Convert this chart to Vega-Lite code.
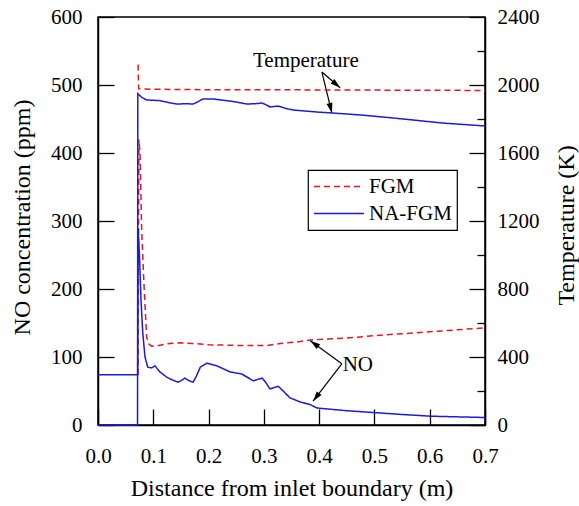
{
  "$schema": "https://vega.github.io/schema/vega-lite/v6.json",
  "width": 387,
  "height": 408,
  "autosize": {"type": "none"},
  "padding": {"left": 98, "top": 17, "right": 94, "bottom": 81},
  "background": "white",
  "config": {
    "font": "Liberation Serif, Times New Roman, serif",
    "view": {"stroke": "black", "strokeWidth": 1.5},
    "axis": {
      "grid": false,
      "domainColor": "black",
      "domainWidth": 1.5,
      "tickColor": "black",
      "tickWidth": 1.3,
      "labelFont": "Liberation Serif, Times New Roman, serif",
      "labelFontSize": 21,
      "labelColor": "black",
      "labelOverlap": false,
      "labelFlush": false,
      "labelBound": false,
      "titleFont": "Liberation Serif, Times New Roman, serif",
      "titleFontSize": 24,
      "titleFontWeight": "normal",
      "titleColor": "black"
    },
    "legend": {
      "orient": "none",
      "legendX": 210,
      "legendY": 153,
      "strokeColor": "black",
      "strokeWidth": 1.2,
      "fillColor": "white",
      "padding": 5,
      "symbolType": "stroke",
      "symbolSize": 2500,
      "symbolStrokeWidth": 1.6,
      "clipHeight": 23,
      "labelFont": "Liberation Serif, Times New Roman, serif",
      "labelFontSize": 21,
      "labelColor": "black",
      "rowPadding": 4,
      "labelOffset": 4
    }
  },
  "datasets": {
    "no": [
      {"x": 0.0725, "value": 74, "model": "FGM"},
      {"x": 0.074, "value": 420, "model": "FGM"},
      {"x": 0.076, "value": 400, "model": "FGM"},
      {"x": 0.079, "value": 287, "model": "FGM"},
      {"x": 0.083, "value": 209, "model": "FGM"},
      {"x": 0.088, "value": 129, "model": "FGM"},
      {"x": 0.092, "value": 119, "model": "FGM"},
      {"x": 0.097, "value": 116, "model": "FGM"},
      {"x": 0.11, "value": 117, "model": "FGM"},
      {"x": 0.13, "value": 120, "model": "FGM"},
      {"x": 0.148, "value": 121, "model": "FGM"},
      {"x": 0.17, "value": 120, "model": "FGM"},
      {"x": 0.2, "value": 118, "model": "FGM"},
      {"x": 0.25, "value": 117, "model": "FGM"},
      {"x": 0.306, "value": 117, "model": "FGM"},
      {"x": 0.33, "value": 120, "model": "FGM"},
      {"x": 0.36, "value": 122, "model": "FGM"},
      {"x": 0.384, "value": 125, "model": "FGM"},
      {"x": 0.45, "value": 128, "model": "FGM"},
      {"x": 0.51, "value": 132, "model": "FGM"},
      {"x": 0.6, "value": 137, "model": "FGM"},
      {"x": 0.7, "value": 143, "model": "FGM"},
      {"x": 0.0, "value": 74, "model": "NA-FGM"},
      {"x": 0.0718, "value": 74, "model": "NA-FGM"},
      {"x": 0.0725, "value": 290, "model": "NA-FGM"},
      {"x": 0.075, "value": 250, "model": "NA-FGM"},
      {"x": 0.078, "value": 180, "model": "NA-FGM"},
      {"x": 0.081, "value": 135, "model": "NA-FGM"},
      {"x": 0.085, "value": 100, "model": "NA-FGM"},
      {"x": 0.09, "value": 85, "model": "NA-FGM"},
      {"x": 0.097, "value": 84, "model": "NA-FGM"},
      {"x": 0.103, "value": 87, "model": "NA-FGM"},
      {"x": 0.112, "value": 78, "model": "NA-FGM"},
      {"x": 0.125, "value": 70, "model": "NA-FGM"},
      {"x": 0.135, "value": 66, "model": "NA-FGM"},
      {"x": 0.145, "value": 63, "model": "NA-FGM"},
      {"x": 0.152, "value": 66, "model": "NA-FGM"},
      {"x": 0.157, "value": 69, "model": "NA-FGM"},
      {"x": 0.165, "value": 65, "model": "NA-FGM"},
      {"x": 0.172, "value": 63, "model": "NA-FGM"},
      {"x": 0.178, "value": 72, "model": "NA-FGM"},
      {"x": 0.185, "value": 85, "model": "NA-FGM"},
      {"x": 0.197, "value": 91, "model": "NA-FGM"},
      {"x": 0.215, "value": 87, "model": "NA-FGM"},
      {"x": 0.239, "value": 78, "model": "NA-FGM"},
      {"x": 0.26, "value": 75, "model": "NA-FGM"},
      {"x": 0.281, "value": 65, "model": "NA-FGM"},
      {"x": 0.297, "value": 69, "model": "NA-FGM"},
      {"x": 0.304, "value": 62, "model": "NA-FGM"},
      {"x": 0.311, "value": 53, "model": "NA-FGM"},
      {"x": 0.326, "value": 57, "model": "NA-FGM"},
      {"x": 0.335, "value": 50, "model": "NA-FGM"},
      {"x": 0.347, "value": 40, "model": "NA-FGM"},
      {"x": 0.365, "value": 34, "model": "NA-FGM"},
      {"x": 0.384, "value": 30, "model": "NA-FGM"},
      {"x": 0.396, "value": 25, "model": "NA-FGM"},
      {"x": 0.45, "value": 21, "model": "NA-FGM"},
      {"x": 0.54, "value": 16, "model": "NA-FGM"},
      {"x": 0.6, "value": 13, "model": "NA-FGM"},
      {"x": 0.7, "value": 11, "model": "NA-FGM"}
    ],
    "temp": [
      {"x": 0.0725, "value": 2120, "model": "FGM"},
      {"x": 0.0735, "value": 1978, "model": "FGM"},
      {"x": 0.08, "value": 1976, "model": "FGM"},
      {"x": 0.15, "value": 1973, "model": "FGM"},
      {"x": 0.3, "value": 1972, "model": "FGM"},
      {"x": 0.5, "value": 1970, "model": "FGM"},
      {"x": 0.7, "value": 1968, "model": "FGM"},
      {"x": 0.0, "value": 0, "model": "NA-FGM"},
      {"x": 0.0715, "value": 0, "model": "NA-FGM"},
      {"x": 0.072, "value": 1950, "model": "NA-FGM"},
      {"x": 0.075, "value": 1940, "model": "NA-FGM"},
      {"x": 0.08, "value": 1925, "model": "NA-FGM"},
      {"x": 0.088, "value": 1912, "model": "NA-FGM"},
      {"x": 0.1, "value": 1910, "model": "NA-FGM"},
      {"x": 0.112, "value": 1908, "model": "NA-FGM"},
      {"x": 0.13, "value": 1895, "model": "NA-FGM"},
      {"x": 0.143, "value": 1888, "model": "NA-FGM"},
      {"x": 0.16, "value": 1890, "model": "NA-FGM"},
      {"x": 0.172, "value": 1888, "model": "NA-FGM"},
      {"x": 0.18, "value": 1900, "model": "NA-FGM"},
      {"x": 0.19, "value": 1918, "model": "NA-FGM"},
      {"x": 0.208, "value": 1918, "model": "NA-FGM"},
      {"x": 0.233, "value": 1908, "model": "NA-FGM"},
      {"x": 0.25, "value": 1900, "model": "NA-FGM"},
      {"x": 0.269, "value": 1888, "model": "NA-FGM"},
      {"x": 0.285, "value": 1890, "model": "NA-FGM"},
      {"x": 0.297, "value": 1894, "model": "NA-FGM"},
      {"x": 0.305, "value": 1882, "model": "NA-FGM"},
      {"x": 0.311, "value": 1871, "model": "NA-FGM"},
      {"x": 0.326, "value": 1876, "model": "NA-FGM"},
      {"x": 0.34, "value": 1862, "model": "NA-FGM"},
      {"x": 0.353, "value": 1853, "model": "NA-FGM"},
      {"x": 0.4, "value": 1840, "model": "NA-FGM"},
      {"x": 0.425, "value": 1835, "model": "NA-FGM"},
      {"x": 0.474, "value": 1824, "model": "NA-FGM"},
      {"x": 0.534, "value": 1806, "model": "NA-FGM"},
      {"x": 0.624, "value": 1776, "model": "NA-FGM"},
      {"x": 0.7, "value": 1759, "model": "NA-FGM"}
    ],
    "labels": [
      {"x": 0.376, "y": 535, "text": "Temperature"},
      {"x": 0.47, "y": 88, "text": "NO"}
    ],
    "arrows": [
      {"x": 0.405, "y": 519, "x2": 0.438, "y2": 496},
      {"x": 0.405, "y": 519, "x2": 0.423, "y2": 459},
      {"x": 0.441, "y": 90, "x2": 0.384, "y2": 124},
      {"x": 0.441, "y": 90, "x2": 0.389, "y2": 35}
    ]
  },
  "layer": [
    {
      "layer": [
        {
          "data": {"name": "no"},
          "mark": {"type": "line", "strokeWidth": 1.5},
          "encoding": {
            "x": {
              "field": "x", "type": "quantitative",
              "scale": {"domain": [0, 0.7], "nice": false},
              "axis": {
                "values": [0, 0.05, 0.1, 0.15, 0.2, 0.25, 0.3, 0.35, 0.4, 0.45, 0.5, 0.55, 0.6, 0.65, 0.7],
                "labelExpr": "round(datum.value*100) % 10 == 0 ? format(datum.value, '.1f') : ''",
                "tickSize": {"condition": {"test": "round(datum.value*100) % 10 != 0", "value": -8}, "value": -16},
                "labelPadding": 36,
                "title": "Distance from inlet boundary (m)",
                "titleX": 193.5, "titleY": 63, "titleBaseline": "middle", "titleAlign": "center"
              }
            },
            "y": {
              "field": "value", "type": "quantitative",
              "scale": {"domain": [0, 600], "nice": false},
              "axis": {
                "values": [0, 50, 100, 150, 200, 250, 300, 350, 400, 450, 500, 550, 600],
                "labelExpr": "datum.value % 100 == 0 ? format(datum.value, 'd') : ''",
                "tickSize": {"condition": {"test": "datum.value % 100 != 0", "value": -8}, "value": -16},
                "labelPadding": 32,
                "title": "NO concentration (ppm)",
                "titleX": -76, "titleY": 200, "titleAngle": 270, "titleBaseline": "middle", "titleAlign": "center"
              }
            },
            "color": {
              "field": "model", "type": "nominal",
              "scale": {"domain": ["FGM", "NA-FGM"], "range": ["#e8161e", "#1c1cd6"]},
              "legend": {"title": null}
            },
            "strokeDash": {
              "field": "model", "type": "nominal",
              "scale": {"domain": ["FGM", "NA-FGM"], "range": [[6, 4], [1, 0]]},
              "legend": {"title": null}
            }
          }
        },
        {
          "data": {"name": "arrows"},
          "mark": {"type": "rule", "color": "black", "strokeWidth": 1.2},
          "encoding": {
            "x": {"field": "x", "type": "quantitative"},
            "y": {"field": "y", "type": "quantitative"},
            "x2": {"field": "x2"},
            "y2": {"field": "y2"}
          }
        },
        {
          "data": {"name": "arrows"},
          "transform": [
            {"calculate": "atan2((datum.x2 - datum.x) * 387 / 0.7, (datum.y2 - datum.y) * 408 / 600) * 180 / PI", "as": "angle"}
          ],
          "mark": {"type": "point", "shape": "M0,0L-0.6,2L0.6,2Z", "filled": true, "color": "black", "size": 100, "opacity": 1, "strokeWidth": 0},
          "encoding": {
            "x": {"field": "x2", "type": "quantitative"},
            "y": {"field": "y2", "type": "quantitative"},
            "angle": {"field": "angle", "type": "quantitative", "scale": null}
          }
        },
        {
          "data": {"name": "labels"},
          "mark": {"type": "text", "font": "Liberation Serif, Times New Roman, serif", "fontSize": 21, "color": "black", "align": "center", "baseline": "middle"},
          "encoding": {
            "x": {"field": "x", "type": "quantitative"},
            "y": {"field": "y", "type": "quantitative"},
            "text": {"field": "text"}
          }
        }
      ]
    },
    {
      "data": {"name": "temp"},
      "mark": {"type": "line", "strokeWidth": 1.5},
      "encoding": {
        "x": {"field": "x", "type": "quantitative"},
        "y": {
          "field": "value", "type": "quantitative",
          "scale": {"domain": [0, 2400], "nice": false},
          "axis": {
            "orient": "right",
            "values": [0, 200, 400, 600, 800, 1000, 1200, 1400, 1600, 1800, 2000, 2200, 2400],
            "labelExpr": "datum.value % 400 == 0 ? format(datum.value, 'd') : ''",
            "tickSize": {"condition": {"test": "datum.value % 400 != 0", "value": -8}, "value": -16},
            "labelPadding": 28,
            "title": "Temperature (K)",
            "titleX": 81, "titleY": 208, "titleAngle": 270, "titleBaseline": "middle", "titleAlign": "center"
          }
        },
        "color": {"field": "model", "type": "nominal", "legend": {"title": null}},
        "strokeDash": {"field": "model", "type": "nominal", "legend": {"title": null}}
      }
    }
  ],
  "resolve": {"scale": {"y": "independent"}}
}
